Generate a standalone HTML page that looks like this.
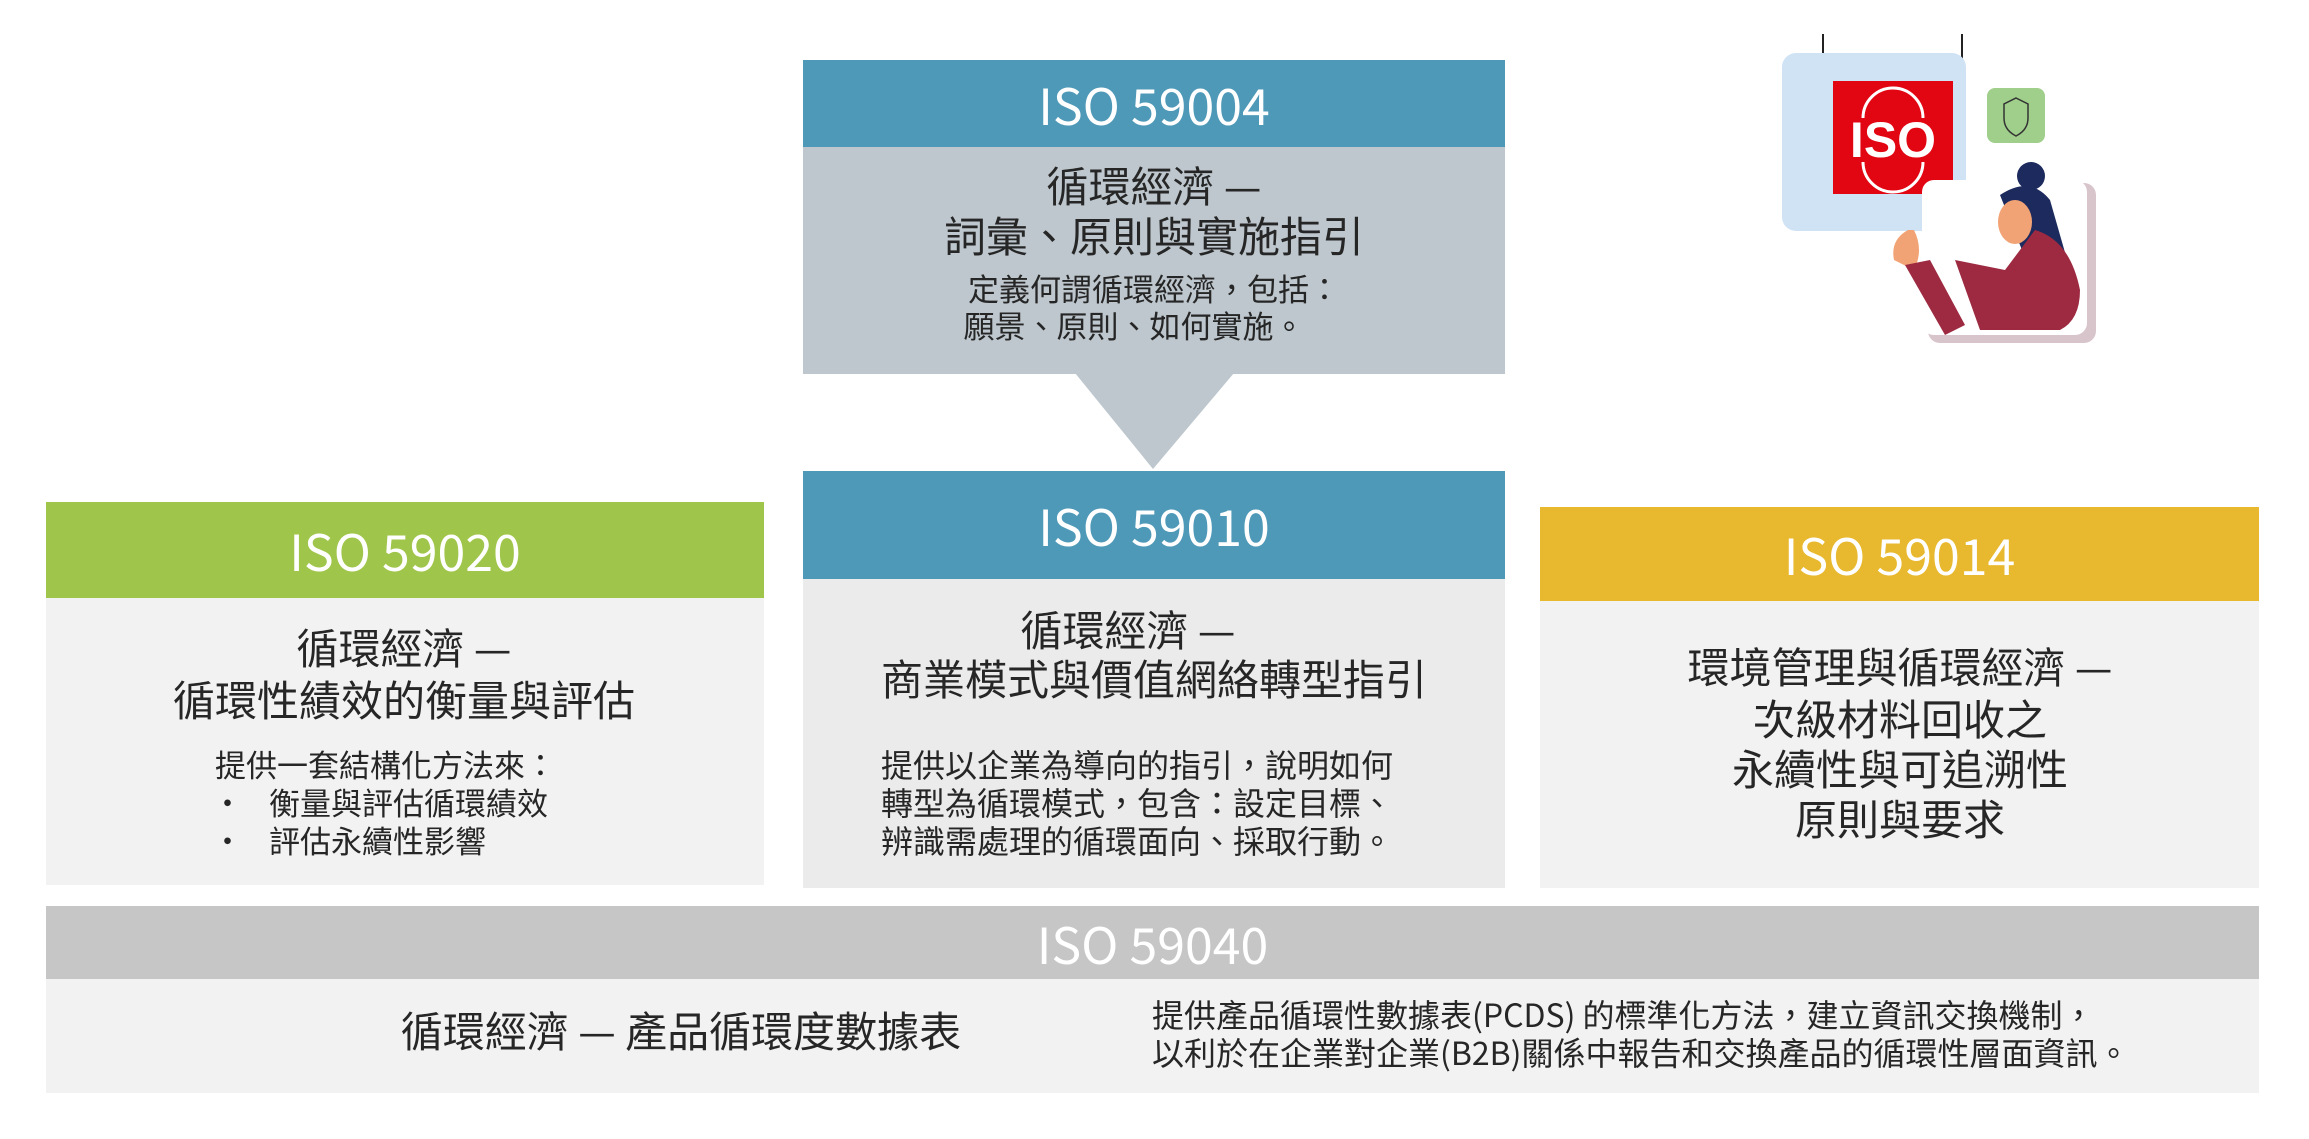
<!DOCTYPE html>
<html><head><meta charset="utf-8">
<style>
*{margin:0;padding:0;box-sizing:border-box}
body{width:2309px;height:1139px;background:#fff;position:relative;overflow:hidden;font-family:"Liberation Sans","Noto Sans CJK TC",sans-serif;color:#262626}
.b{position:absolute}
.h{position:absolute;color:#fff;font-size:50px;text-align:center;display:flex;align-items:center;justify-content:center;font-family:"Noto Sans CJK TC","Liberation Sans",sans-serif}
.t{position:absolute;white-space:nowrap;font-family:"Noto Sans CJK TC",sans-serif;line-height:1}
.c{transform:translateX(-50%)}
.big{font-size:42px}
.sm{font-size:31px}
.sm2{font-size:32px}
</style></head><body>
<!-- 59004 -->
<div class="h" style="left:803px;top:60px;width:702px;height:87px;background:#4f99b8">ISO 59004</div>
<div class="b" style="left:803px;top:147px;width:702px;height:227px;background:#bdc7cd"></div>
<svg class="b" style="left:0;top:0" width="2309" height="1139"><polygon points="1075,373 1234,373 1153,469" fill="#bdc7cd"/></svg>
<div class="t c big" style="left:1154px;top:164px">循環經濟 —</div>
<div class="t c big" style="left:1154px;top:214px">詞彙、原則與實施指引</div>
<div class="t c sm" style="left:1154px;top:272px">定義何謂循環經濟，包括：</div>
<div class="t c sm" style="left:1134px;top:309px">願景、原則、如何實施。</div>
<!-- 59010 -->
<div class="h" style="left:803px;top:471px;width:702px;height:108px;background:#4f99b8">ISO 59010</div>
<div class="b" style="left:803px;top:579px;width:702px;height:309px;background:#ebebeb"></div>
<div class="t c big" style="left:1128px;top:608px">循環經濟 —</div>
<div class="t c big" style="left:1154px;top:657px">商業模式與價值網絡轉型指引</div>
<div class="t sm2" style="left:881px;top:748px">提供以企業為導向的指引，說明如何</div>
<div class="t sm2" style="left:881px;top:786px">轉型為循環模式，包含：設定目標、</div>
<div class="t sm2" style="left:881px;top:824px">辨識需處理的循環面向、採取行動。</div>
<!-- 59020 -->
<div class="h" style="left:46px;top:502px;width:718px;height:96px;background:#9fc54a">ISO 59020</div>
<div class="b" style="left:46px;top:598px;width:718px;height:287px;background:#f2f2f2"></div>
<div class="t c big" style="left:404px;top:626px">循環經濟 —</div>
<div class="t c big" style="left:404px;top:678px">循環性績效的衡量與評估</div>
<div class="t sm" style="left:215px;top:748px">提供一套結構化方法來：</div>
<div class="t sm" style="left:212px;top:786px">•</div>
<div class="t sm" style="left:269px;top:786px">衡量與評估循環績效</div>
<div class="t sm" style="left:212px;top:824px">•</div>
<div class="t sm" style="left:269px;top:824px">評估永續性影響</div>
<!-- 59014 -->
<div class="h" style="left:1540px;top:507px;width:719px;height:94px;background:#e8b92e">ISO 59014</div>
<div class="b" style="left:1540px;top:601px;width:719px;height:287px;background:#f2f2f2"></div>
<div class="t c big" style="left:1900px;top:645px">環境管理與循環經濟 —</div>
<div class="t c big" style="left:1900px;top:697px">次級材料回收之</div>
<div class="t c big" style="left:1900px;top:747px">永續性與可追溯性</div>
<div class="t c big" style="left:1900px;top:797px">原則與要求</div>
<!-- 59040 -->
<div class="h" style="left:46px;top:906px;width:2213px;height:73px;background:#c6c6c6">ISO 59040</div>
<div class="b" style="left:46px;top:979px;width:2213px;height:114px;background:#f2f2f2"></div>
<div class="t c big" style="left:681px;top:1009px">循環經濟 — 產品循環度數據表</div>
<div class="t sm2" style="left:1152px;top:998px">提供產品循環性數據表(PCDS) 的標準化方法，建立資訊交換機制，</div>
<div class="t sm2" style="left:1152px;top:1036px">以利於在企業對企業(B2B)關係中報告和交換產品的循環性層面資訊。</div>
<!-- illustration -->
<svg class="b" style="left:1770px;top:30px" width="340" height="330" viewBox="1770 30 340 330">
<line x1="1823" y1="34" x2="1823" y2="60" stroke="#222" stroke-width="2"/>
<line x1="1962" y1="34" x2="1962" y2="60" stroke="#222" stroke-width="2"/>
<rect x="1782" y="53" width="184" height="178" rx="14" fill="#cfe3f5"/>
<rect x="1833" y="81" width="120" height="113" fill="#e20613"/>
<text x="1893" y="157" font-family="Liberation Sans" font-weight="bold" font-size="50" fill="#fff" text-anchor="middle">ISO</text>
<path d="M1863,118 A30,30 0 0 1 1923,118 M1863,162 A30,30 0 0 0 1923,162" stroke="#fff" stroke-width="3" fill="none"/>
<rect x="1987" y="88" width="58" height="55" rx="8" fill="#9fcf8b"/>
<path d="M2016,98 l12,6 v14 q0,12 -12,18 q-12,-6 -12,-18 v-14z" fill="none" stroke="#333" stroke-width="1.5"/>
<rect x="1928" y="183" width="168" height="160" rx="12" fill="#d8c5cc"/>
<rect x="1922" y="180" width="165" height="155" rx="12" fill="#fff"/>
<circle cx="2031" cy="176" r="14" fill="#1d2a5e"/>
<path d="M2000,195 q30,-20 50,5 l20,70 h-40 z" fill="#1d2a5e"/>
<ellipse cx="2015" cy="222" rx="17" ry="22" fill="#f2a375"/>
<path d="M1955,260 l25,70 h80 q20,-10 20,-40 q-10,-50 -45,-60 l-30,40 z" fill="#9d2a41"/>
<path d="M1908,230 q-18,10 -14,30 l20,10 q10,-20 0,-40z" fill="#f2a375"/>
<path d="M1905,265 l40,70 l20,-10 l-35,-65z" fill="#9d2a41"/>
</svg>
</body></html>
